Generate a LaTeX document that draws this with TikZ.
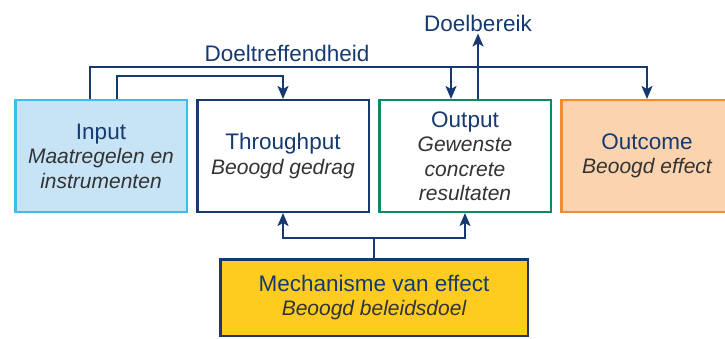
\documentclass[tikz,border=0pt]{standalone}
\usepackage{fontspec}
\setmainfont{Liberation Sans}
\usetikzlibrary{positioning,arrows.meta}
\definecolor{navy}{HTML}{163A70}
\definecolor{subgrijs}{HTML}{333333}
\definecolor{inputrand}{HTML}{3DBDEB}
\definecolor{inputvul}{HTML}{C6E4F6}
\definecolor{outputrand}{HTML}{0E8A5E}
\definecolor{outcomerand}{HTML}{F58B2E}
\definecolor{outcomevul}{HTML}{FBD3AF}
\definecolor{mechvul}{HTML}{FDCC1F}
\newcommand{\ondertitel}[1]{{\color{subgrijs}\itshape\fontsize{21}{24}\selectfont #1}}
\tikzstyle{Blok}=[rectangle, line width=2.5pt, minimum width=171.5pt, minimum height=111.5pt, align=center, text=navy, font=\fontsize{22.5}{24.5}\selectfont]
\tikzstyle{InputBlok}=[Blok, draw=inputrand, fill=inputvul]
\tikzstyle{ThroughputBlok}=[Blok, draw=navy, fill=white]
\tikzstyle{OutputBlok}=[Blok, draw=outputrand, fill=white]
\tikzstyle{OutcomeBlok}=[Blok, draw=outcomerand, fill=outcomevul]
\tikzstyle{MechBlok}=[Blok, draw=navy, fill=mechvul, minimum width=307.5pt, minimum height=76.5pt]
\tikzstyle{Label}=[text=navy, font=\fontsize{22.5}{24.5}\selectfont, inner sep=2pt]
\tikzstyle{Lijn}=[draw=navy, line width=2pt]
\tikzstyle{Pijl}=[Lijn, -{Stealth[length=13pt, width=11pt, inset=3pt]}]

\begin{document}
\begin{tikzpicture}
			\useasboundingbox (0,0) rectangle (725pt,338pt);
			%Nodos
			\node[InputBlok]		(input)		at (101pt,182pt)				{Input\\\ondertitel{Maatregelen en}\\\ondertitel{instrumenten}};
			\node[ThroughputBlok]	(throughput)	[right=8pt of input]			{Throughput\\\ondertitel{Beoogd gedrag}};
			\node[OutputBlok]		(output)		[right=8pt of throughput]		{Output\\\ondertitel{Gewenste}\\\ondertitel{concrete}\\\ondertitel{resultaten}};
			\node[OutcomeBlok]		(outcome)		[right=8pt of output]			{Outcome\\\ondertitel{Beoogd effect}};

			\node[MechBlok]		(mechanism)	at (374pt,40.5pt)				{Mechanisme van effect\\\ondertitel{Beoogd beleidsdoel}};

			\node[Label]			(doeltreffendheid)	at (287pt,285pt)			{Doeltreffendheid};
			\node[Label]			(doelbereik)	at ([xshift=13pt,yshift=76pt]output.north)	{Doelbereik};

			\coordinate (tak) at ([xshift=-14pt,yshift=32pt]output.north);
			\coordinate (vork) at ([yshift=20pt]mechanism.north);

			%Lineas
			\draw[Pijl] ([xshift=-11pt]input.north) -- ++(0,32pt) -| (outcome.north);
			\draw[Pijl] ([xshift=16pt]input.north) -- ++(0,23pt) -| (throughput.north);
			\draw[Pijl] (tak) -- (tak |- output.north);
			\draw[Pijl] ([xshift=13pt]output.north) -- (doelbereik.south);

			\draw[Lijn] (mechanism.north) -- (vork);
			\draw[Pijl] (vork) -| (throughput.south);
			\draw[Pijl] (vork) -| (output.south);

		\end{tikzpicture}
\end{document}
